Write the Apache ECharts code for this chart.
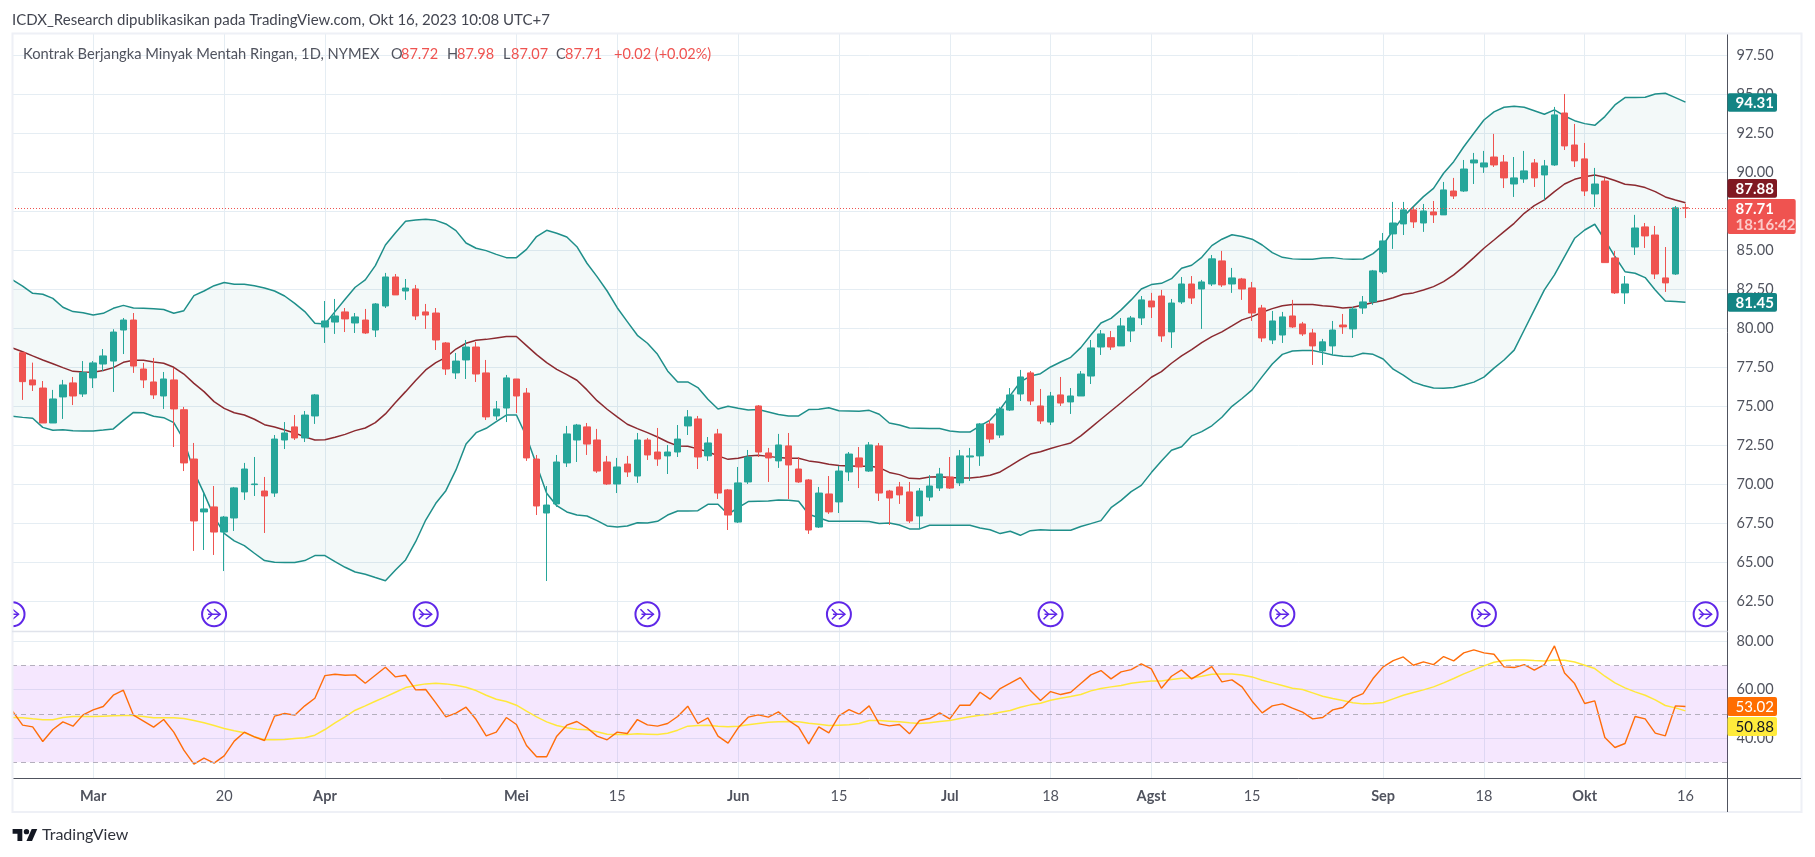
<!DOCTYPE html>
<html><head><meta charset="utf-8">
<style>html,body{margin:0;padding:0;background:#fff}#c{width:1815px;height:857px}</style>
<script src="https://cdn.jsdelivr.net/npm/echarts@6/dist/echarts.min.js"></script>
</head><body><div id="c"></div>
<script>
// [open, close, low, high], sessions 0..165
const candles = [
[78.44,76.58,75.41,78.44],[76.69,76.37,75.98,77.80],[76.17,73.93,73.93,76.62],[73.93,75.47,73.93,76.05],[75.60,76.37,74.19,76.69],
[76.50,75.66,75.08,76.88],[75.79,77.16,75.60,77.90],[76.82,77.78,76.17,77.90],[77.71,78.23,77.26,78.67],[77.90,79.76,75.92,79.94],
[79.89,80.53,78.35,80.66],[80.53,77.58,77.14,80.98],[77.39,76.69,76.17,77.78],[76.56,75.73,75.47,78.10],[75.66,76.75,74.83,77.20],
[76.69,74.83,72.39,77.46],[74.78,71.37,70.85,74.96],[71.62,67.65,65.73,72.65],[68.23,68.42,65.79,69.44],[68.55,66.94,65.47,69.89],
[66.94,67.90,64.44,67.97],[67.84,69.77,67.01,69.83],[69.51,70.98,69.00,71.37],[69.98,70.02,69.25,71.75],[69.57,69.25,66.88,70.47],
[69.44,72.90,69.19,73.16],[72.84,73.29,72.26,73.99],[73.68,72.97,72.84,74.44],[72.97,74.44,72.71,74.70],[74.38,75.73,73.87,75.79],
[80.08,80.47,79.06,81.75],[80.40,80.79,79.64,81.88],[81.05,80.60,79.76,81.30],[80.34,80.73,79.70,80.98],[80.53,79.70,79.64,81.24],
[79.89,81.56,79.44,81.62],[81.43,83.29,81.30,83.55],[83.29,82.14,82.14,83.48],[82.39,82.58,81.82,83.16],[82.52,80.79,80.53,82.78],
[81.05,80.85,79.96,81.56],[80.98,79.25,78.61,81.30],[79.06,77.39,77.01,79.12],[77.14,77.90,76.75,78.42],[77.97,78.80,76.75,79.25],
[78.80,77.07,76.56,79.12],[77.14,74.32,74.12,77.97],[74.38,74.83,74.12,75.34],[74.89,76.82,73.99,77.01],[76.75,75.66,74.57,76.75],
[75.85,71.69,71.50,76.17],[71.62,68.61,68.03,71.88],[68.16,68.67,63.80,69.89],[68.74,71.43,68.55,71.88],[71.37,73.23,71.11,73.74],
[72.84,73.80,71.43,73.87],[73.68,72.58,71.88,73.93],[72.84,70.85,70.73,73.55],[71.43,70.02,69.96,71.82],[70.02,71.11,69.44,71.69],
[71.30,70.79,70.47,71.82],[70.53,72.84,70.09,73.29],[72.84,71.88,71.56,72.97],[72.07,71.62,71.18,73.61],[71.82,72.07,70.66,72.52],
[72.07,72.90,71.75,73.80],[73.74,74.32,73.16,74.76],[74.19,71.75,70.98,74.38],[71.82,72.65,71.50,73.03],[73.23,69.44,69.06,73.55],
[69.64,68.03,67.07,69.70],[67.58,70.09,67.52,71.11],[70.15,71.75,70.02,72.20],[75.02,72.07,71.75,75.08],[72.01,71.69,70.15,72.33],
[71.50,72.52,71.05,73.23],[72.46,71.24,69.06,73.29],[70.98,70.15,70.09,71.75],[70.28,67.07,66.82,70.34],[67.26,69.44,67.20,69.83],
[69.38,68.23,68.10,70.53],[68.87,70.85,68.16,71.18],[70.79,71.94,70.21,72.07],[71.69,71.11,69.76,72.39],[70.85,72.52,70.79,72.71],
[72.46,69.44,68.93,72.65],[69.57,69.12,67.39,69.64],[69.83,69.32,68.74,70.15],[69.51,67.65,67.52,70.15],[67.97,69.57,67.14,69.76],
[69.18,69.89,68.93,70.59],[69.76,70.66,69.57,71.05],[70.47,69.76,69.70,71.75],[70.09,71.82,69.89,72.20],[71.75,71.82,70.21,72.33],
[71.82,73.87,71.18,73.93],[73.87,72.90,72.65,74.12],[73.16,74.83,72.97,74.96],[74.76,75.73,74.70,76.17],[75.79,76.88,75.34,77.33],
[77.14,75.34,75.08,77.26],[75.02,74.06,73.87,76.11],[73.99,75.66,73.80,75.92],[75.73,75.21,75.02,76.88],[75.28,75.66,74.51,76.17],
[75.66,77.07,75.66,77.26],[76.94,78.74,76.43,79.25],[78.80,79.64,78.29,79.89],[79.40,78.80,78.61,79.83],[78.87,80.15,78.87,80.66],
[79.83,80.66,79.12,80.79],[80.66,81.82,80.21,82.07],[81.75,81.37,80.66,82.27],[82.07,79.51,79.13,82.46],[79.77,81.62,78.74,81.88],
[81.69,82.84,81.56,83.29],[82.84,81.94,81.56,83.35],[82.52,82.97,79.96,83.10],[82.84,84.45,82.71,84.70],[84.32,82.78,82.65,84.96],
[82.84,83.23,82.27,83.87],[83.16,82.52,81.82,83.23],[82.59,80.98,80.47,82.97],[81.30,79.38,79.13,81.50],[79.25,80.47,78.99,81.11],
[79.57,80.73,79.06,81.05],[80.79,80.09,80.02,81.82],[80.28,79.64,79.51,80.41],[79.70,78.87,77.65,79.96],[78.55,79.13,77.65,79.32],
[78.87,79.89,78.29,80.47],[80.21,80.09,79.64,80.92],[79.96,81.24,79.38,81.37],[81.30,81.69,80.92,82.07],[81.69,83.68,81.50,83.74],
[83.61,85.60,83.48,86.11],[86.05,86.75,85.09,88.10],[86.69,87.59,85.98,88.10],[87.59,86.82,86.43,87.78],[86.75,87.52,86.18,87.97],
[87.46,87.27,86.75,88.16],[87.27,88.87,87.27,89.38],[88.80,88.48,88.29,89.64],[88.80,90.21,88.74,90.79],[90.60,90.79,89.25,91.24],
[90.34,90.60,89.96,91.37],[90.98,90.47,90.34,92.46],[90.66,89.64,88.99,91.11],[89.25,89.64,88.42,90.98],[89.57,90.09,89.32,91.37],
[90.60,89.64,89.06,90.85],[89.83,90.41,88.23,90.79],[90.47,93.68,90.41,94.19],[93.80,91.69,91.43,95.02],[91.75,90.73,90.34,93.10],
[90.86,88.80,88.48,91.88],[88.61,89.25,87.78,90.28],[89.44,84.21,84.21,89.64],[84.51,82.27,82.20,84.96],[82.27,82.84,81.56,83.35],
[85.21,86.43,84.70,87.27],[86.50,85.92,85.15,86.75],[85.98,83.48,83.16,86.56],[83.23,82.91,82.33,85.21],[83.48,87.72,83.42,87.84],
[87.72,87.71,87.07,87.98]];
// indicator lists start one session before the first visible candle (index -1)
const bbUpper = [83.10,
82.71,82.24,82.18,81.92,81.35,81.07,81.00,80.85,80.96,81.28,
81.47,81.30,81.28,81.26,81.20,80.96,81.13,82.09,82.39,82.73,
82.93,82.82,82.82,82.73,82.58,82.39,82.07,81.60,81.07,80.32,
80.28,81.07,81.86,82.63,83.10,84.02,85.34,86.13,86.86,86.94,
86.99,86.92,86.69,86.26,85.47,85.13,84.98,84.74,84.53,84.53,
85.06,85.88,86.28,86.09,85.85,85.23,84.17,83.31,82.39,81.32,
80.43,79.55,79.04,78.33,77.27,76.56,76.56,76.20,75.45,74.83,
75.00,74.87,74.76,74.79,74.64,74.47,74.38,74.38,74.79,74.81,
74.91,74.72,74.70,74.68,74.74,74.49,73.93,73.80,73.61,73.59,
73.57,73.57,73.42,73.35,73.35,73.74,74.12,74.81,75.70,76.56,
76.94,77.09,77.52,77.84,78.14,78.76,79.57,80.34,80.64,81.18,
81.82,82.52,82.80,82.88,83.18,83.85,84.04,84.55,85.30,85.71,
86.00,85.88,85.71,85.34,84.85,84.55,84.45,84.42,84.42,84.51,
84.53,84.45,84.42,84.44,84.79,85.34,86.30,87.16,87.80,88.44,
88.97,89.94,90.68,91.64,92.50,93.35,93.87,94.17,94.23,94.17,
93.95,93.72,94.00,93.61,93.31,93.12,93.01,93.57,94.32,94.79,
94.79,94.81,95.02,95.07,94.79,94.50];
const bbBasis = [78.74,
78.50,78.23,77.97,77.73,77.48,77.24,77.20,77.18,77.29,77.48,
77.82,77.95,77.95,77.84,77.76,77.50,77.07,76.47,75.94,75.30,
74.87,74.59,74.44,74.17,73.82,73.67,73.48,73.29,73.04,72.84,
72.86,73.01,73.20,73.44,73.61,73.95,74.51,75.24,75.94,76.65,
77.33,77.80,78.14,78.67,79.04,79.23,79.29,79.38,79.47,79.47,
78.89,78.31,77.80,77.37,77.03,76.67,76.05,75.36,74.81,74.32,
73.85,73.57,73.31,73.03,72.71,72.46,72.44,72.27,72.09,71.82,
71.60,71.67,71.82,71.86,71.79,71.71,71.67,71.67,71.50,71.41,
71.28,71.20,71.18,71.15,71.15,71.07,70.76,70.62,70.38,70.36,
70.47,70.49,70.43,70.40,70.40,70.47,70.58,70.79,71.18,71.58,
71.94,72.09,72.29,72.48,72.65,73.10,73.63,74.17,74.70,75.23,
75.77,76.30,76.86,77.22,77.76,78.23,78.64,79.08,79.47,79.77,
80.15,80.54,80.75,81.03,81.26,81.45,81.52,81.52,81.52,81.45,
81.39,81.30,81.35,81.50,81.65,81.78,81.96,82.18,82.27,82.46,
82.67,82.99,83.42,83.95,84.53,85.13,85.66,86.20,86.73,87.37,
87.86,88.23,88.76,89.25,89.55,89.72,89.83,89.68,89.47,89.23,
89.17,89.02,88.76,88.42,88.23,88.05];
const bbLower = [74.36,
74.29,74.23,73.65,73.46,73.50,73.44,73.42,73.42,73.48,73.55,
74.10,74.61,74.59,74.36,74.27,73.95,72.84,70.81,69.42,67.93,
66.86,66.37,66.07,65.58,65.11,65.00,64.98,64.98,65.11,65.43,
65.43,65.04,64.68,64.38,64.23,64.02,63.82,64.51,65.15,66.32,
67.71,68.78,69.59,70.92,72.58,73.31,73.59,74.02,74.44,74.44,
73.05,71.24,69.42,68.63,68.23,68.03,67.97,67.67,67.33,67.26,
67.33,67.54,67.52,67.63,68.03,68.29,68.29,68.31,68.72,68.72,
68.08,68.50,68.89,68.91,68.93,68.99,68.97,68.91,68.08,67.86,
67.63,67.63,67.63,67.63,67.61,67.48,67.52,67.39,67.14,67.14,
67.37,67.37,67.37,67.37,67.37,67.20,67.09,66.84,66.99,66.73,
67.03,67.09,67.05,67.05,67.05,67.29,67.48,67.67,68.50,68.97,
69.53,69.93,70.75,71.50,72.18,72.41,73.10,73.38,73.75,74.30,
75.00,75.50,76.05,76.90,77.71,78.33,78.55,78.57,78.57,78.44,
78.29,78.21,78.20,78.40,78.33,78.03,77.38,77.00,76.55,76.33,
76.17,76.15,76.20,76.37,76.55,76.87,77.45,77.97,78.60,79.89,
81.18,82.46,83.42,84.60,85.77,86.30,86.67,85.66,84.60,83.63,
83.53,83.25,82.46,81.75,81.71,81.67];
const rsi = [51.10,
45.32,44.63,38.58,43.53,46.70,44.91,49.58,51.65,53.02,57.70,
59.76,49.45,46.97,44.49,47.66,42.43,35.00,29.23,31.70,29.64,
32.66,38.72,42.43,40.50,38.99,49.03,50.13,49.45,53.30,56.46,
65.81,66.36,65.95,66.09,62.65,65.95,69.25,65.26,65.95,59.90,
60.04,54.54,48.76,50.27,52.75,47.66,40.92,42.43,48.48,45.60,
36.93,32.25,32.25,40.78,45.32,46.83,44.22,40.78,39.27,42.43,
41.88,47.66,45.46,44.91,46.01,48.90,53.16,46.01,48.35,40.78,
37.89,44.22,48.62,49.58,48.62,50.82,47.24,44.49,37.62,44.63,
42.16,49.17,51.78,49.86,53.30,45.87,45.05,45.59,41.74,47.25,
48.07,50.41,47.93,53.57,53.57,58.94,56.05,60.45,62.65,64.99,
59.62,55.50,59.21,57.97,58.94,62.51,66.09,67.88,64.44,67.33,
68.29,70.63,68.57,60.59,65.54,68.15,64.44,66.91,69.53,63.20,
64.03,61.14,55.22,50.41,53.30,54.12,52.33,50.68,47.93,48.48,
51.65,52.61,56.60,58.39,64.58,69.39,72.00,73.52,70.08,71.45,
70.35,73.66,71.87,75.17,76.41,75.17,74.62,69.39,69.12,70.35,
68.02,70.35,78.06,66.91,62.51,54.26,55.36,40.23,36.10,37.75,
48.90,47.93,42.02,40.92,53.30,53.02];
const rsiMa = [48.48,
48.35,47.93,47.52,47.52,48.48,48.90,48.90,48.90,49.03,49.17,
49.31,49.31,48.90,48.35,48.35,48.35,48.07,47.25,46.28,45.18,
43.94,42.98,42.16,40.50,39.27,39.27,39.41,39.82,40.09,41.19,
43.53,46.28,48.76,51.51,53.30,55.22,57.01,58.94,60.86,61.69,
62.38,62.65,62.38,61.83,61.00,59.62,57.70,56.05,55.09,53.57,
51.10,48.76,46.70,45.18,44.22,43.67,43.39,42.57,41.61,41.47,
41.47,41.74,41.61,41.47,42.02,43.26,44.91,45.18,45.32,44.91,
44.63,44.91,45.46,46.01,46.56,46.70,46.83,46.70,46.15,45.73,
45.18,45.32,45.46,46.01,47.25,47.25,46.97,46.70,46.28,46.01,
46.28,46.83,47.25,48.07,48.76,49.45,49.86,50.68,51.37,52.75,
53.71,54.40,55.64,56.46,57.15,57.97,59.49,60.45,61.14,61.69,
62.65,63.20,63.61,63.61,64.16,64.71,64.85,65.54,66.36,66.50,
66.50,66.09,65.26,63.89,62.79,61.69,60.59,60.04,58.66,57.29,
56.32,55.50,54.54,54.12,54.26,54.67,56.19,57.70,58.80,59.90,
61.14,62.79,64.58,66.50,68.15,69.80,71.32,72.00,72.28,72.28,
72.00,71.87,72.28,72.14,71.45,70.08,68.70,65.54,62.79,60.73,
59.07,57.70,55.77,53.44,52.47,51.23];
const tickSessions = [7,20,30,49,59,71,81,92,102,112,122,135,145,155,165];
const tickLabels = ['Mar','20','Apr','Mei','15','Jun','15','Jul','18','Agst','15','Sep','18','Okt','16'];
const monthLabels = ['Mar','Apr','Mei','Jun','Jul','Agst','Sep','Okt'];
const priceTicks = [62.5,65,67.5,70,72.5,75,77.5,80,82.5,85,87.5,90,92.5,95,97.5];
const rsiTicks = [40,60,80];
const rsiBands = [70,50,30];
const eventSessions = [-1,19,40,62,81,102,125,145,167];
const eventPrice = 61.67;
const lastPrice = 87.71;

const FONT = '"Lato","Open Sans",sans-serif';
const TXT = '#50535e', GRIDC = '#e5edf3';
const sessions = bbUpper.map((_, i) => i - 1);
const xy = arr => arr.map((v, i) => [sessions[i], v]);

const lineSeries = (name, arr, color, w, ax, z) => ({
  name, type: 'line', data: xy(arr), xAxisIndex: ax, yAxisIndex: ax, showSymbol: false, symbol: 'none',
  lineStyle: { color, width: w }, smooth: false, silent: true, z, animation: false
});

const xAxisBase = idx => ({
  type: 'value', gridIndex: idx, min: -1.052, max: 169.17, boundaryGap: false,
  axisLine: { show: idx === 1, onZero: false, lineStyle: { color: TXT, width: 1 } },
  axisTick: { show: false, customValues: tickSessions },
  splitLine: { show: true, lineStyle: { color: GRIDC, width: 1 } }
});

const tag = (x, y, w, h, fill, lines) => {
  const els = [{ type: 'rect', z: 100, shape: { x, y, width: w, height: h, r: 2 }, style: { fill } }];
  lines.forEach(l => els.push({ type: 'text', z: 101, x: x + l.dx, y: y + l.dy,
    style: { text: l.t, fill: l.c, font: (l.b ? 'bold ' : '') + (l.s || 15) + 'px ' + FONT, textVerticalAlign: 'middle' } }));
  return els;
};
const t = (x, y, text, fill, size) => ({ type: 'text', z: 90, x, y,
  style: { text, fill, font: (size || 15) + 'px ' + FONT, textVerticalAlign: 'middle' } });
const logoPts = pts => pts.map(p => [12.6 + p[0] * 0.694, 826.3 + p[1] * 0.667]);

const chart = echarts.init(document.getElementById('c'), null, { renderer: 'canvas' });
chart.setOption({
  animation: false,
  backgroundColor: '#ffffff',
  grid: [
    { left: 12, top: 33.5, width: 1715.5, height: 597.5, containLabel: false },
    { left: 12, top: 631.5, width: 1715.5, height: 146.8, containLabel: false }
  ],
  xAxis: [
    Object.assign(xAxisBase(0), { axisLabel: { show: false } }),
    Object.assign(xAxisBase(1), { axisLabel: {
      show: true, customValues: tickSessions, color: TXT, margin: 11, fontFamily: FONT, fontSize: 14.5, hideOverlap: false,
      formatter: v => { const s = tickLabels[tickSessions.indexOf(v)] || ''; return monthLabels.includes(s) ? '{b|' + s + '}' : s; },
      rich: { b: { fontWeight: 'bold', color: TXT, fontFamily: FONT, fontSize: 14.5 } }
    } })
  ],
  yAxis: [
    { type: 'value', gridIndex: 0, position: 'right', min: 60.596, max: 98.897, scale: true,
      axisLine: { show: true, onZero: false, lineStyle: { color: TXT, width: 1 } },
      axisTick: { show: false, customValues: priceTicks },
      axisLabel: { customValues: priceTicks, color: TXT, margin: 9, fontFamily: FONT, fontSize: 14.5, formatter: v => v.toFixed(2) },
      splitLine: { show: true, lineStyle: { color: GRIDC, width: 1 } } },
    { type: 'value', gridIndex: 1, position: 'right', min: 23.37, max: 84.02, scale: true,
      axisLine: { show: true, onZero: false, lineStyle: { color: TXT, width: 1 } },
      axisTick: { show: false, customValues: rsiTicks },
      axisLabel: { customValues: rsiTicks, color: TXT, margin: 9, fontFamily: FONT, fontSize: 14.5, formatter: v => v.toFixed(2) },
      splitLine: { show: true, lineStyle: { color: GRIDC, width: 1 } } }
  ],
  series: [
    { type: 'custom', name: 'BB fill', xAxisIndex: 0, yAxisIndex: 0, data: [[0, 80]], silent: true, z: 1, clip: true,
      renderItem: (p, api) => {
        const pts = [];
        sessions.forEach((s, i) => pts.push(api.coord([s, bbUpper[i]])));
        for (let i = sessions.length - 1; i >= 0; i--) pts.push(api.coord([sessions[i], bbLower[i]]));
        return { type: 'polygon', shape: { points: pts }, style: { fill: 'rgba(19,132,132,0.05)' } };
      } },
    lineSeries('Upper', bbUpper, '#1f8f8a', 1.5, 0, 3),
    lineSeries('Lower', bbLower, '#1f8f8a', 1.5, 0, 3),
    lineSeries('Basis', bbBasis, '#8b2a30', 1.5, 0, 3),
    { type: 'candlestick', name: 'CL', xAxisIndex: 0, yAxisIndex: 0, barWidth: 7, z: 4, silent: true,
      encode: { x: 0, y: [1, 2, 3, 4] },
      data: candles.map((d, i) => [i, d[0], d[1], d[2], d[3]]),
      itemStyle: { color: '#26a69a', color0: '#ef5350', borderColor: '#26a69a', borderColor0: '#ef5350', borderWidth: 1 },
      markLine: { silent: true, symbol: 'none', animation: false, label: { show: false },
        lineStyle: { color: '#ef5350', type: [1, 2], width: 1 }, data: [{ yAxis: lastPrice }] } },
    { type: 'custom', name: 'Events', xAxisIndex: 0, yAxisIndex: 0, silent: true, z: 6, clip: false,
      data: eventSessions.map(s => [s, eventPrice]), encode: { x: 0, y: 1 },
      renderItem: (p, api) => {
        const c = api.coord([api.value(0), api.value(1)]), x = c[0], y = c[1], col = '#5f27e8';
        const st = { stroke: col, fill: 'none', lineWidth: 1.5 };
        return { type: 'group', children: [
          { type: 'circle', shape: { cx: x, cy: y, r: 12 }, style: { stroke: col, fill: '#ffffff', lineWidth: 2 } },
          { type: 'polyline', shape: { points: [[x - 7, y - 5], [x - 2, y], [x - 7, y + 5]] }, style: st },
          { type: 'polyline', shape: { points: [[x, y - 5], [x + 6, y], [x, y + 5]] }, style: st },
          { type: 'line', shape: { x1: x - 6, y1: y, x2: x + 6, y2: y }, style: st }
        ] };
      } },
    { type: 'line', name: 'RSI zone', xAxisIndex: 1, yAxisIndex: 1, data: [], silent: true, z: 1,
      markArea: { silent: true, itemStyle: { color: 'rgba(170,60,245,0.12)' }, data: [[{ yAxis: rsiBands[0] }, { yAxis: rsiBands[2] }]] },
      markLine: { silent: true, symbol: 'none', animation: false, label: { show: false },
        lineStyle: { color: '#b4afbd', type: [5, 4], width: 1 }, data: rsiBands.map(v => ({ yAxis: v })) } },
    lineSeries('RSI MA', rsiMa, '#ffe83b', 1.5, 1, 3),
    lineSeries('RSI', rsi, '#ff6d0a', 1.4, 1, 4)
  ],
  graphic: { elements: [
    { type: 'rect', z: 80, shape: { x: 0, y: 0, width: 12, height: 857 }, style: { fill: '#fff' } },
    { type: 'rect', z: 81, shape: { x: 12.5, y: 33.5, width: 1789, height: 778.5 }, style: { fill: 'none', stroke: '#eef0f6', lineWidth: 2 } },
    { type: 'line', z: 81, shape: { x1: 12, y1: 631.5, x2: 1727.5, y2: 631.5 }, style: { stroke: '#e0e3eb', lineWidth: 1.5 } },
    { type: 'line', z: 81, shape: { x1: 1727.5, y1: 778.5, x2: 1801, y2: 778.5 }, style: { stroke: TXT, lineWidth: 1 } },
    { type: 'line', z: 81, shape: { x1: 1727.5, y1: 778, x2: 1727.5, y2: 812 }, style: { stroke: TXT, lineWidth: 1 } },
    t(12, 20, 'ICDX_Research dipublikasikan pada TradingView.com, Okt 16, 2023 10:08 UTC+7', '#434651'),
    t(23, 54, 'Kontrak Berjangka Minyak Mentah Ringan, 1D, NYMEX', TXT, 14.7),
    t(391, 54, 'O', TXT, 14.5), t(401, 54, '87.72', '#ef5350', 14.5),
    t(447, 54, 'H', TXT, 14.5), t(457, 54, '87.98', '#ef5350', 14.5),
    t(503, 54, 'L', TXT, 14.5), t(511, 54, '87.07', '#ef5350', 14.5),
    t(556, 54, 'C', TXT, 14.5), t(565, 54, '87.71', '#ef5350', 14.5),
    t(614, 54, '+0.02 (+0.02%)', '#ef5350', 14.5),
    ...tag(1727.5, 93.3, 49.5, 18.4, '#138484', [{ t: '94.31', c: '#fff', dx: 8, dy: 9.6, b: 1 }]),
    ...tag(1727.5, 293, 49.5, 18.7, '#138484', [{ t: '81.45', c: '#fff', dx: 8, dy: 9.8, b: 1 }]),
    ...tag(1727.5, 179, 49.5, 18.7, '#801922', [{ t: '87.88', c: '#fff', dx: 8, dy: 9.8, b: 1 }]),
    ...tag(1727.5, 199, 68.2, 35, '#ef5350', [
      { t: '87.71', c: '#fff', dx: 8, dy: 10, b: 1 }, { t: '18:16:42', c: '#fcc9c8', dx: 8, dy: 26, b: 1 }]),
    ...tag(1727.5, 697, 49.5, 19, '#ff6d00', [{ t: '53.02', c: '#fff', dx: 8, dy: 10 }]),
    ...tag(1727.5, 717, 49.5, 19, '#ffeb3b', [{ t: '50.88', c: '#131722', dx: 8, dy: 10 }]),
    { type: 'polygon', z: 90, shape: { points: logoPts([[14,22],[7,22],[7,11],[0,11],[0,4],[14,4]]) }, style: { fill: '#131722' } },
    { type: 'polygon', z: 90, shape: { points: logoPts([[28,22],[20,22],[27.5,4],[35.5,4]]) }, style: { fill: '#131722' } },
    { type: 'circle', z: 90, shape: { cx: 12.6 + 20 * 0.694, cy: 826.3 + 8 * 0.667, r: 2.7 }, style: { fill: '#131722' } },
    t(42, 835, 'TradingView', '#30333c', 16)
  ] }
});
</script></body></html>
